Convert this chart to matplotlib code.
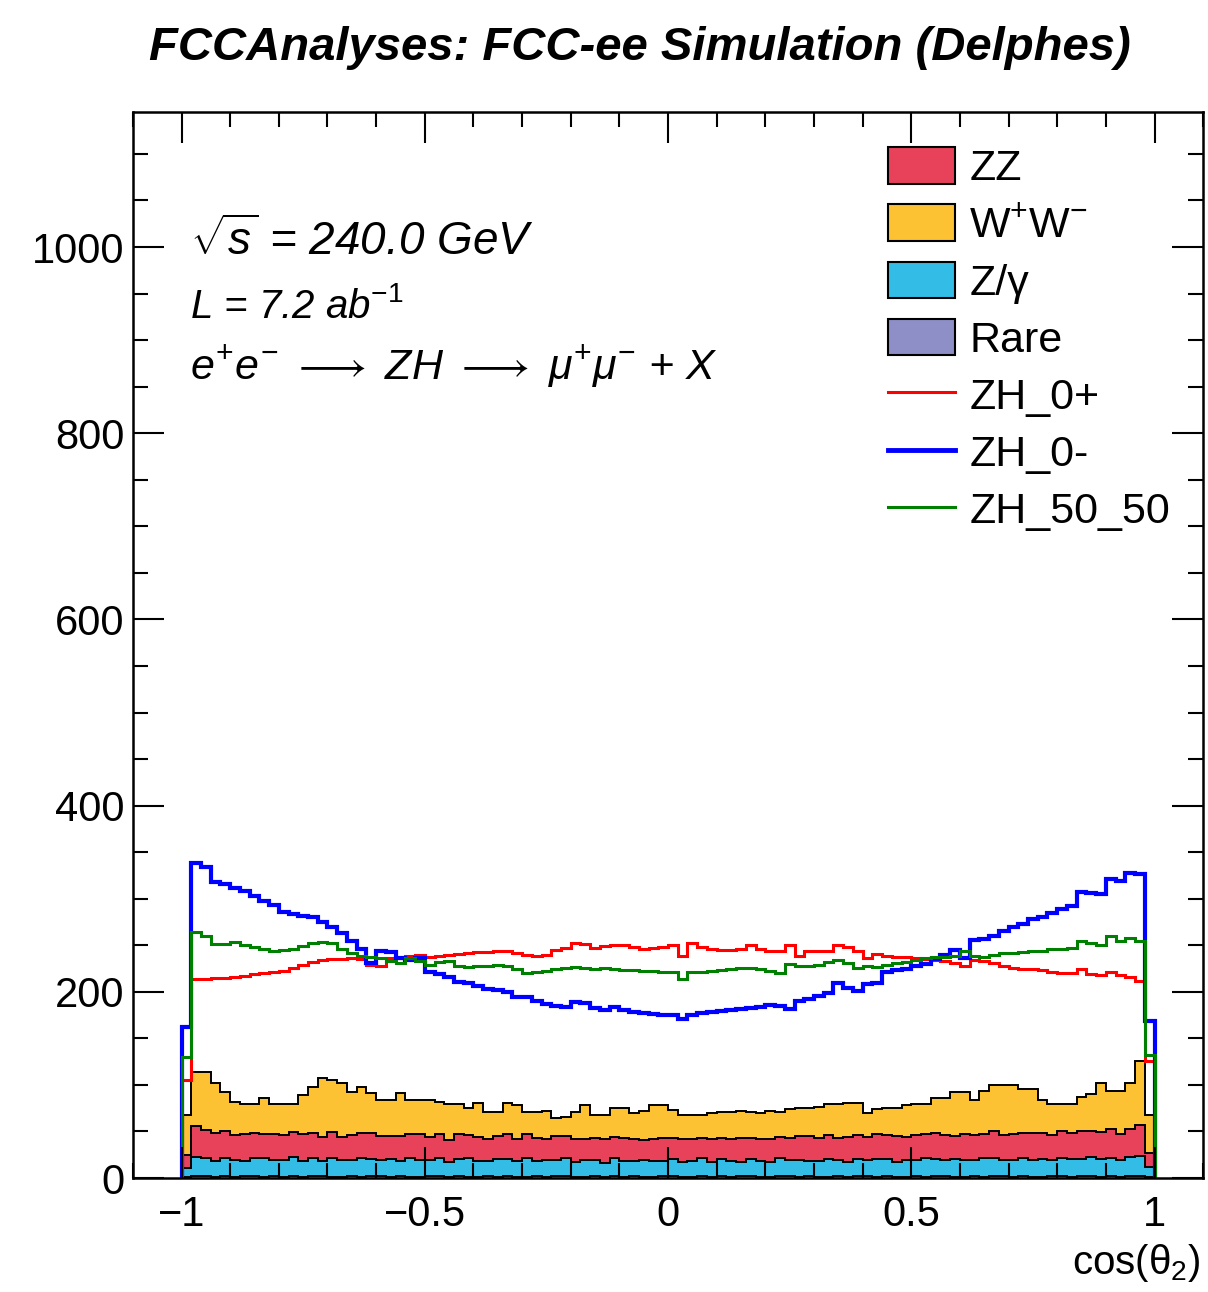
import numpy as np
import matplotlib
matplotlib.use("Agg")
import matplotlib.pyplot as plt
from matplotlib.patches import Patch
from matplotlib.lines import Line2D
from matplotlib.ticker import MultipleLocator

plt.rcParams['font.family'] = ['Liberation Sans', 'DejaVu Sans']
plt.rcParams['mathtext.fontset'] = 'custom'
plt.rcParams['mathtext.rm'] = 'Liberation Sans'
plt.rcParams['mathtext.it'] = 'Liberation Sans:italic'
plt.rcParams['mathtext.bf'] = 'Liberation Sans:bold'

# cos(theta_2), 100 bins between -1 and 1
edges = np.linspace(-1.0, 1.0, 101)

# backgrounds (stacked, bottom to top: rare, Z/gamma, ZZ, WW)
rare = [1, 2, 2, 1, 2, 1, 2, 2, 1, 2, 1, 2, 1, 2, 2, 1, 1, 2, 1, 2,
        2, 1, 2, 1, 1, 2, 2, 1, 2, 1, 1, 2, 1, 2, 1, 1, 2, 1, 2, 2,
        1, 1, 2, 1, 2, 1, 2, 1, 1, 2, 2, 1, 1, 2, 1, 2, 1, 2, 2, 1,
        1, 2, 2, 1, 2, 1, 1, 2, 1, 2, 2, 1, 2, 1, 1, 2, 1, 2, 2, 1,
        1, 2, 1, 2, 2, 1, 2, 1, 1, 2, 2, 1, 2, 2, 1, 2, 1, 2, 2, 1]
zgamma = [10, 21, 19, 17, 20, 18, 16, 19, 20, 17, 18, 21, 17, 19, 16, 20, 18, 17, 21, 18,
          17, 19, 16, 20, 18, 17, 19, 16, 18, 20, 17, 16, 19, 18, 17, 20, 16, 18, 17, 19,
          16, 18, 17, 15, 19, 17, 16, 18, 17, 16, 18, 16, 17, 19, 16, 18, 17, 15, 18, 17,
          16, 19, 17, 18, 16, 17, 19, 17, 16, 18, 17, 19, 18, 16, 18, 17, 20, 18, 17, 19,
          18, 17, 20, 19, 17, 18, 20, 18, 19, 17, 20, 19, 18, 21, 19, 20, 18, 21, 22, 11]
zz = [14, 33, 31, 30, 28, 27, 29, 27, 26, 28, 27, 26, 29, 27, 26, 28, 25, 27, 26, 28,
      26, 25, 27, 26, 28, 25, 26, 24, 27, 25, 26, 24, 25, 27, 24, 26, 25, 23, 26, 24,
      25, 23, 24, 26, 23, 25, 24, 22, 24, 25, 23, 25, 24, 22, 25, 23, 24, 26, 23, 24,
      25, 23, 24, 26, 27, 25, 26, 24, 27, 26, 25, 27, 26, 28, 25, 27, 26, 28, 27, 25,
      28, 27, 26, 29, 27, 28, 26, 29, 28, 27, 29, 28, 30, 27, 29, 31, 28, 30, 33, 15]
ww = [43, 58, 62, 54, 42, 36, 33, 32, 39, 33, 34, 31, 42, 50, 63, 56, 58, 46, 50, 43,
      39, 39, 46, 37, 37, 40, 35, 39, 33, 29, 37, 29, 26, 34, 36, 24, 28, 30, 20, 21,
      29, 36, 25, 26, 31, 32, 28, 31, 36, 35, 30, 26, 26, 25, 28, 28, 29, 29, 28, 28,
      30, 27, 31, 30, 30, 33, 34, 37, 37, 35, 26, 27, 29, 30, 34, 34, 33, 38, 40, 47,
      45, 38, 47, 50, 54, 53, 48, 48, 36, 34, 29, 32, 37, 40, 53, 41, 47, 49, 69, 41]

# signal hypotheses
zh_0p = [105, 214, 214, 215, 215, 216, 217, 219, 220, 221, 222, 226, 229, 232, 234, 235, 235, 236, 235, 229,
         228, 236, 236, 238, 240, 237, 238, 240, 241, 242, 243, 243, 244, 244, 242, 240, 239, 240, 245, 247,
         252, 251, 247, 249, 250, 250, 248, 246, 247, 248, 250, 239, 252, 248, 246, 245, 245, 246, 250, 246,
         244, 244, 250, 239, 244, 244, 244, 250, 248, 244, 236, 241, 239, 237, 237, 236, 235, 234, 233, 231,
         228, 234, 233, 231, 228, 226, 225, 224, 223, 221, 220, 220, 225, 219, 218, 221, 218, 216, 212, 126]
zh_0m = [162, 338, 334, 318, 316, 311, 308, 303, 298, 293, 286, 284, 281, 280, 275, 270, 263, 255, 246, 231,
         244, 243, 236, 234, 236, 221, 219, 216, 211, 210, 206, 203, 202, 200, 194, 194, 190, 187, 185, 184,
         189, 188, 183, 180, 184, 180, 178, 177, 176, 175, 175, 171, 175, 177, 178, 179, 180, 182, 183, 184,
         186, 185, 182, 190, 192, 196, 199, 210, 204, 201, 208, 210, 221, 223, 225, 228, 230, 235, 240, 245,
         236, 256, 257, 260, 265, 270, 273, 278, 280, 285, 289, 292, 307, 306, 305, 321, 319, 328, 327, 169]
zh_5050 = [130, 264, 260, 251, 251, 253, 250, 248, 246, 244, 245, 246, 249, 252, 253, 252, 246, 242, 238, 237,
           236, 233, 231, 236, 233, 229, 232, 233, 228, 227, 228, 228, 229, 228, 224, 220, 221, 222, 224, 226,
           227, 226, 225, 226, 225, 223, 223, 222, 222, 221, 221, 214, 221, 221, 222, 223, 225, 226, 226, 224,
           222, 220, 230, 228, 228, 229, 232, 234, 231, 226, 228, 227, 229, 231, 232, 234, 236, 237, 237, 238,
           244, 238, 237, 240, 242, 242, 243, 244, 244, 246, 246, 247, 255, 252, 250, 260, 255, 258, 255, 132]

bkg_values = [rare, zgamma, zz, ww]
bkg_colors = ['#8e8fc6', '#33bde6', '#e7425a', '#fdc233']

fig = plt.figure(figsize=(12.08, 12.92), dpi=100)
ax = fig.add_axes([0.110, 0.0882, 0.886, 0.8251])

# stacked backgrounds
bottom = np.zeros(len(edges) - 1)
tops = []
for vals, col in zip(bkg_values, bkg_colors):
    top = bottom + np.asarray(vals, dtype=float)
    ax.stairs(top, edges, baseline=bottom, fill=True, color=col, lw=0)
    tops.append(top)
    bottom = top
for top in tops:
    ax.stairs(top, edges, baseline=0, color='black', lw=1.4)

# signal lines on top
ax.stairs(zh_0p, edges, baseline=0, color='#ff0000', lw=2.2)
ax.stairs(zh_0m, edges, baseline=0, color='#0000ff', lw=3.0)
ax.stairs(zh_5050, edges, baseline=0, color='#008000', lw=2.2)

ax.set_xlim(-1.1, 1.1)
ax.set_ylim(0, 1145)

ax.xaxis.set_minor_locator(MultipleLocator(0.1))
ax.yaxis.set_major_locator(MultipleLocator(200))
ax.yaxis.set_minor_locator(MultipleLocator(50))
ax.set_xticks([-1, -0.5, 0, 0.5, 1])
ax.set_xticklabels(['−1', '−0.5', '0', '0.5', '1'])
ax.tick_params(which='both', direction='in', top=True, right=True, width=1.5, labelsize=30)
ax.tick_params(which='major', length=22)
ax.tick_params(which='minor', length=11)
ax.tick_params(axis='x', pad=12)
ax.tick_params(axis='y', pad=6)
for sp in ax.spines.values():
    sp.set_linewidth(1.8)

ax.set_xlabel(r'cos($\mathrm{\theta}_{2}$)', fontsize=29, loc='right')
ax.xaxis.set_label_coords(0.997, -0.060)

fig.text(0.53, 0.963, 'FCCAnalyses: FCC-ee Simulation (Delphes)',
         ha='center', va='center', fontsize=34, fontweight='bold', style='italic')

ax.text(0.053, 0.866, r'$\sqrt{s}$ = 240.0 GeV', transform=ax.transAxes,
        fontsize=33, style='italic', va='baseline')
ax.text(0.053, 0.807, r'L = 7.2 ab$^{-1}$', transform=ax.transAxes,
        fontsize=29, style='italic', va='baseline')
ax.text(0.053, 0.749,
        r'$e^{+}e^{-}$ $\longrightarrow$ ZH $\longrightarrow$ $\mu^{+}\mu^{-}$ + X',
        transform=ax.transAxes, fontsize=31, style='italic', va='baseline')

handles = [Patch(facecolor=bkg_colors[2], edgecolor='black', lw=1.5),
           Patch(facecolor=bkg_colors[3], edgecolor='black', lw=1.5),
           Patch(facecolor=bkg_colors[1], edgecolor='black', lw=1.5),
           Patch(facecolor=bkg_colors[0], edgecolor='black', lw=1.5),
           Line2D([], [], color='#ff0000', lw=2.2),
           Line2D([], [], color='#0000ff', lw=3.5),
           Line2D([], [], color='#008000', lw=2.2)]
labels = ['ZZ', 'W$^{+}$W$^{-}$', 'Z/γ', 'Rare', 'ZH_0+', 'ZH_0-', 'ZH_50_50']
ax.legend(handles, labels, loc='upper left', bbox_to_anchor=(0.7056, 0.967),
          frameon=False, fontsize=31, handlelength=1.55, handleheight=0.93,
          handletextpad=0.34, labelspacing=0.35, borderpad=0, borderaxespad=0)

fig.savefig('out.png', dpi=100)
